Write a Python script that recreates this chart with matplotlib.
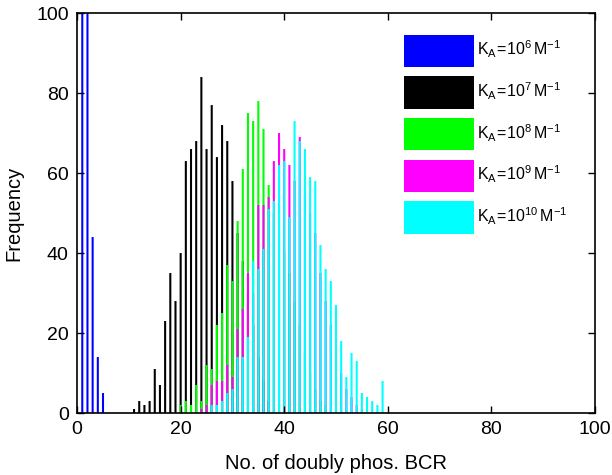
import matplotlib
matplotlib.use("Agg")
import matplotlib.pyplot as plt
import numpy as np

plt.rcParams['font.family'] = ['Liberation Sans', 'DejaVu Sans']
plt.rcParams['mathtext.fontset'] = 'custom'
plt.rcParams['mathtext.rm'] = 'Liberation Sans'

# ---- data: bin position -> frequency ----
blue_x = [1, 2, 3, 4, 5]
blue_y = [420, 480, 44, 14, 5]

black_x = list(range(11, 38))
black_y = [1, 3, 2, 3, 11, 7, 23, 35, 28, 40, 63, 66, 68, 84, 66, 77, 64, 72, 68,
           58, 45, 38, 30, 22, 14, 8, 3]

green_x = list(range(20, 49))
green_y = [2, 3, 2, 7, 3, 12, 11, 22, 25, 37, 33, 48, 61, 75, 73, 78, 71, 57,
           50, 45, 40, 35, 28, 22, 15, 10, 6, 3, 2]

magenta_x = list(range(24, 56))
magenta_y = [1, 2, 7, 8, 8, 12, 9, 21, 26, 35, 30, 52, 52, 54, 63, 70, 66, 62,
             58, 69, 55, 50, 45, 35, 28, 22, 15, 10, 6, 4, 2, 1]

cyan_x = list(range(26, 60))
cyan_y = [2, 2, 3, 5, 6, 14, 14, 19, 38, 36, 41, 51, 53, 62, 63, 49, 73, 68, 66,
          59, 58, 42, 36, 33, 27, 18, 9, 15, 13, 5, 4, 3, 2, 8]

labels = [r'$\mathregular{K_A\!=\!10^{6}\,M^{-1}}$',
          r'$\mathregular{K_A\!=\!10^{7}\,M^{-1}}$',
          r'$\mathregular{K_A\!=\!10^{8}\,M^{-1}}$',
          r'$\mathregular{K_A\!=\!10^{9}\,M^{-1}}$',
          r'$\mathregular{K_A\!=\!10^{10}\,M^{-1}}$']
colors = ['#0000ff', '#000000', '#00ff00', '#ff00ff', '#00ffff']

fig = plt.figure(figsize=(6.12, 4.75), dpi=100)
ax = fig.add_axes([0.126, 0.1305, 0.846, 0.842])

series = [(blue_x, blue_y), (black_x, black_y), (green_x, green_y),
          (magenta_x, magenta_y), (cyan_x, cyan_y)]
handles = []
for (xs, ys), c, lab in zip(series, colors, labels):
    h = ax.bar(xs, ys, width=0.4, color=c, linewidth=0, label=lab)
    for p in h.patches:
        p.set_snap(False)
    handles.append(h)

ax.set_xlim(0, 100)
ax.set_ylim(0, 100)
ax.set_xticks([0, 20, 40, 60, 80, 100])
ax.set_yticks([0, 20, 40, 60, 80, 100])
ax.tick_params(direction='in', top=True, right=True, length=5, width=1,
               labelsize=14, pad=6)
for s in ax.spines.values():
    s.set_linewidth(1.2)
ax.set_xlabel('No. of doubly phos. BCR', fontsize=14.5, labelpad=11)
ax.set_ylabel('Frequency', fontsize=14.5, labelpad=9)

leg = ax.legend(handles=handles, loc='upper left', bbox_to_anchor=(0.631, 0.946),
                frameon=False, fontsize=11.5, handlelength=4.4, handleheight=2.75,
                labelspacing=0.575, handletextpad=0.2, borderpad=0, borderaxespad=0)

fig.savefig('out.png', dpi=100)
